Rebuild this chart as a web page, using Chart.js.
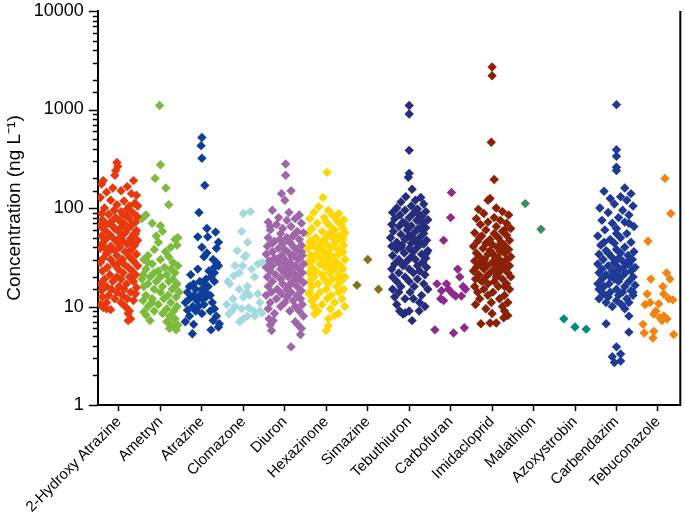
<!DOCTYPE html>
<html>
<head>
<meta charset="utf-8">
<script src="https://cdn.jsdelivr.net/npm/chart.js@4.4.1/dist/chart.umd.min.js"></script>
<style>
html,body{margin:0;padding:0;background:#fff;}
canvas{display:block;}
</style>
</head>
<body>
<canvas id="c" width="685" height="518"></canvas>
<script>
const categories = ["2-Hydroxy Atrazine","Ametryn","Atrazine","Clomazone","Diuron","Hexazinone","Simazine","Tebuthiuron","Carbofuran","Imidacloprid","Malathion","Azoxystrobin","Carbendazim","Tebuconazole"];
const yTickLabels = [1, 10, 100, 1000, 10000];

const hydroxyAtrazineValues = [290,265,240,215,190,190,175,165,160,150,145,140,135,128,120,118,112,108,105,100,98,95,92,90,88,86,84,82,80,78,76,75,73,72,70,68,67,66,65,63,62,60,59,58,56,55,54,52,51,50,49,48,47,46,45,44,43,42,41,40,39,38,37,36,35,34,33,32,31,30,30,29,28,27,27,26,25,25,24,23,23,22,21,21,20,20,19,19,18,18,17,17,16,16,15.5,15,15,14.5,14,14,13.5,13,13,12.5,12,12,11.5,11,11,10.5,10,9.8,9.5,9.3,9,8.5,7.5,7.2,62,85,48,36,70,105,44,28,55,40];
const hydroxyAtrazineJitter = [-0.05,-0.03,-0.08,-0.1,-0.38,0.35,-0.42,0.2,-0.15,0.05,-0.3,0.3,0.42,-0.45,-0.2,0.12,0.38,-0.05,0.45,-0.35,0.2,-0.12,0.05,0.33,-0.42,-0.25,0.18,0.44,-0.08,0.25,-0.4,0.0,-0.18,0.4,0.12,-0.3,0.3,-0.45,0.07,-0.12,0.22,-0.35,0.42,-0.02,0.15,-0.25,0.35,-0.42,0.05,-0.15,0.28,-0.32,0.45,0.1,-0.05,-0.4,0.2,0.38,-0.2,0.02,-0.45,0.3,-0.1,0.15,-0.3,0.42,-0.05,0.25,-0.38,0.08,-0.2,0.35,-0.45,0.12,-0.12,0.45,-0.28,0.22,-0.02,0.32,-0.4,0.1,-0.22,0.4,-0.05,0.25,-0.35,0.05,0.35,-0.15,-0.45,0.18,0.0,-0.3,0.42,-0.18,0.12,-0.42,0.28,-0.05,0.4,-0.25,0.08,-0.4,0.2,-0.1,0.35,-0.3,0.05,-0.45,0.15,-0.38,-0.3,-0.2,0.25,0.22,0.28,0.22,-0.1,0.1,0.0,-0.25,-0.22,0.25,0.3,0.0,0.4,-0.35];

const ametrynValues = [1100,275,200,160,108,85,78,70,66,58,52,50,48,45,42,40,38,36,33,32,30,30,28,27,26,25,24,24,23,22,21,21,20,20,19,19,18,18,17,17,16,16,15,15,14,14,13,13,12.5,12,12,11.5,11,10.5,10,10,9.5,9,9,8.8,8.5,8.2,8,7.5,7.2,7,6.6,6.3,6,5.8,6.5,11,16,22,28];
const ametrynJitter = [-0.02,0.0,-0.13,0.13,0.2,-0.35,-0.45,-0.2,0.0,0.05,-0.1,0.42,0.35,-0.05,0.4,0.25,-0.15,0.12,-0.3,0.2,-0.4,0.0,0.3,-0.2,0.42,0.1,-0.35,0.25,-0.05,0.35,-0.42,0.15,-0.25,0.0,0.3,-0.45,-0.1,0.2,0.4,-0.3,0.05,-0.4,0.28,-0.15,0.45,0.0,-0.35,0.18,0.38,-0.2,0.08,-0.42,0.25,-0.05,0.4,-0.3,0.15,-0.15,0.32,-0.4,0.05,-0.35,0.22,0.35,-0.25,0.15,0.25,0.3,0.22,0.38,0.42,-0.2,0.35,-0.15,-0.3];

const atrazineValues = [520,430,320,170,90,62,57,51,51,40,39,32,30,26,25,23,21,20,19,18,17,16,16,15,15,14,14,13,13,12.5,12,12,11.5,11,11,10.5,10,10,9.5,9.2,9,9,8.5,8,8,7.2,7,6.7,6.6,5.8,5.3,6.2,13,17,22,24,18,28,35,45];
const atrazineJitter = [0.0,-0.02,0.0,0.07,-0.07,0.12,0.33,0.14,-0.1,0.0,0.35,0.05,0.27,0.4,0.3,0.17,-0.27,0.22,0.1,-0.05,0.05,-0.3,0.15,-0.15,0.0,-0.35,0.08,-0.2,-0.05,0.1,-0.3,0.0,-0.12,0.25,-0.4,0.05,-0.22,-0.08,0.3,-0.35,0.2,-0.15,0.0,-0.3,0.35,0.27,-0.4,0.42,-0.2,0.22,-0.23,0.4,0.2,-0.2,0.3,-0.1,0.3,0.35,0.12,0.4];

const clomazoneValues = [92,88,58,45,37,33,32,28,26,26,27,24,20.5,20,18,17,16,15,14,13,13.5,12,11,10,9.5,9.7,9,9,9,8.4,8,8,7.5,7,8.6,10.5,12.5,22];
const clomazoneJitter = [0.17,0.0,-0.04,0.1,-0.15,0.06,0.03,0.45,-0.2,-0.02,0.35,0.2,-0.23,0.27,-0.37,-0.33,0.1,-0.1,0.08,0.15,0.35,-0.25,0.4,-0.2,-0.04,0.13,-0.28,0.25,0.4,-0.35,0.1,0.27,0.0,-0.09,0.45,-0.4,0.0,-0.1];

const diuronValues = [280,215,150,140,120,95,90,85,80,78,75,72,70,68,65,62,60,58,56,55,52,50,50,48,46,45,44,42,41,40,39,38,37,36,35,34,33,33,32,31,30,30,29,28,28,27,26,26,25,25,24,24,23,23,22,22,21,21,20,20,19,19,18,18,17.5,17,16.5,16,16,15,15,14.5,14,14,13.5,13,13,12.5,12,12,11.5,11,11,10.5,10,10,9.5,9,9,8.5,8,7.5,7,6.5,6,5.2,3.9,33,44,27,20,55,36,17,30,48,65,24,5.7,6.5,7.2];
const diuronJitter = [0.02,0.02,0.15,-0.08,0.0,-0.3,0.1,0.35,-0.15,0.25,0.05,-0.4,0.4,-0.2,0.15,-0.05,-0.35,0.3,0.45,-0.1,0.2,-0.4,0.05,0.35,-0.25,0.12,-0.05,0.4,-0.42,0.22,-0.15,0.0,0.3,-0.3,0.1,-0.45,0.42,-0.08,0.18,-0.25,0.32,0.0,-0.38,0.12,-0.15,0.45,0.25,-0.3,0.05,-0.45,0.35,-0.1,0.15,-0.35,0.42,-0.02,0.25,-0.22,0.08,-0.42,0.35,-0.1,0.2,-0.3,0.45,-0.05,0.1,-0.4,0.3,-0.18,0.05,0.4,-0.32,0.15,-0.08,0.3,-0.45,0.05,-0.2,0.38,0.2,-0.35,0.0,0.42,-0.1,0.25,-0.4,0.12,0.35,-0.25,0.45,-0.38,0.25,0.32,0.4,0.38,0.15,0.2,-0.3,0.0,0.3,0.25,0.4,0.15,-0.2,-0.12,-0.35,0.1,-0.32,-0.35,-0.28];

const hexazinoneValues = [230,128,103,95,90,88,85,80,78,76,75,72,70,68,65,62,60,58,56,55,54,52,50,50,48,47,46,45,44,43,42,41,40,39,38,37,36,35,35,34,33,32,31,30,30,29,28,28,27,26,26,25,25,24,24,23,22,22,21,21,20,20,19,19,18,18,17,17,16,16,15,15,14,14,13.5,13,12.5,12,12,11.5,11,10.5,10,10,9.5,9,8.5,8.4,8.1,7.5,6.4,5.7,40,55,33,27,45,62,19,14,50,36];
const hexazinoneJitter = [0.02,-0.08,-0.18,0.05,-0.3,0.3,0.15,-0.05,-0.4,0.42,0.25,0.0,-0.22,0.35,0.1,-0.35,0.2,-0.1,0.45,-0.45,0.05,0.3,-0.25,0.15,-0.05,0.38,-0.38,0.22,-0.15,0.0,0.42,-0.3,0.12,-0.45,0.28,-0.08,0.4,-0.22,0.05,0.3,-0.38,0.15,-0.12,0.45,-0.3,0.02,0.25,-0.45,-0.15,0.35,0.1,-0.35,-0.02,0.4,0.2,-0.25,0.08,-0.42,0.3,-0.1,0.45,-0.3,0.15,-0.05,0.35,-0.4,0.05,-0.2,0.25,-0.35,0.42,0.0,-0.15,0.3,-0.42,0.12,-0.25,0.38,0.02,-0.35,0.2,-0.1,0.45,-0.3,0.1,-0.2,0.3,-0.28,0.2,0.05,0.05,0.0,-0.2,0.15,0.05,0.2,-0.4,0.4,0.3,-0.4,0.4,-0.05];

const simazineValues = [30,16.5,15];
const simazineJitter = [0.0,-0.26,0.26];

const tebuthiuronValues = [1100,900,385,225,205,155,130,128,120,115,110,105,100,98,95,92,90,88,85,82,80,78,76,75,72,70,68,66,65,63,62,60,58,56,55,54,52,50,50,48,47,46,45,44,43,42,41,40,39,38,37,36,35,34,33,32,31,30,30,29,28,27,26,26,25,24,24,23,22,22,21,20,20,19,18,18,17,16,16,15,15,14,14,13,12.5,12,12,11,10.5,10,9,8.6,8.4,9,9,7.2,60,45,35,28,40,50,70,85];
const tebuthiuronJitter = [0.0,0.0,0.0,0.0,-0.02,0.07,-0.08,0.28,0.15,-0.2,0.35,0.05,-0.3,0.2,-0.1,0.4,-0.4,0.1,-0.22,0.3,0.0,-0.35,0.45,0.18,-0.15,0.32,-0.42,0.05,-0.25,0.4,0.22,-0.05,-0.38,0.12,0.35,-0.2,0.0,0.25,-0.45,-0.1,0.42,0.15,-0.3,0.05,0.35,-0.18,-0.42,0.2,0.0,-0.3,0.45,0.1,-0.12,0.3,-0.4,0.05,0.4,-0.25,0.15,-0.05,0.32,-0.35,0.2,-0.15,0.42,-0.42,0.0,0.25,-0.25,0.1,0.38,-0.1,-0.4,0.2,0.0,-0.3,0.35,-0.2,0.12,-0.4,0.45,0.02,-0.25,0.3,-0.35,0.1,-0.1,0.25,-0.3,0.38,-0.23,-0.1,-0.15,0.0,0.24,0.07,0.3,0.25,0.42,-0.2,-0.2,0.08,-0.1,0.25];

const carbofuranValues = [144,80,47,24,20,17,17,14.5,15,15,12.8,12.8,12,11.5,16,5.8,5.4,6.1,13.5];
const carbofuranJitter = [0.02,0.0,-0.17,0.17,0.22,-0.33,-0.1,-0.22,-0.05,0.36,0.26,0.12,-0.24,-0.17,0.3,-0.38,0.07,0.33,0.05];

const imidaclopridValues = [2700,2200,465,195,125,120,100,97,92,88,85,80,78,75,72,70,68,65,62,60,58,56,55,53,52,50,48,47,46,45,44,43,42,41,40,39,38,37,36,35,35,34,33,32,32,31,30,30,29,28,28,27,27,26,26,25,25,24,24,23,23,22,22,21,21,20,20,19,19,18,18,17,17,16,16,15,15,14,14,13,13,12,12,11,11,10.5,10,9.5,9,8.5,8.1,7.7,6.8,6.7,6.8,40,50,30,25,60,45,35,20,16];
const imidaclopridJitter = [0.0,0.0,-0.02,0.05,-0.05,-0.1,0.1,-0.33,0.25,-0.2,0.4,0.05,-0.38,0.2,-0.1,0.35,-0.28,0.1,0.45,-0.15,0.25,-0.42,0.05,0.35,-0.25,0.15,-0.05,0.42,-0.35,0.22,-0.15,0.0,0.3,-0.45,0.12,-0.22,0.4,-0.05,0.2,-0.38,0.3,-0.1,0.05,0.45,-0.3,0.15,-0.18,0.35,-0.42,0.0,0.25,-0.28,0.1,0.42,-0.12,-0.38,0.3,0.05,-0.2,0.2,-0.45,0.38,-0.05,0.12,-0.32,0.45,-0.15,0.25,-0.4,0.05,-0.25,0.35,-0.1,0.15,-0.42,0.42,-0.2,0.02,-0.35,0.3,-0.1,0.18,-0.3,0.38,-0.02,-0.4,0.25,-0.15,0.3,0.0,0.38,0.28,-0.05,-0.27,0.1,0.25,-0.3,0.08,0.15,0.3,-0.1,0.0,0.1,0.3];

const malathionValues = [111,61];
const malathionJitter = [-0.2,0.18];

const azoxystrobinValues = [7.5,6.2,5.9];
const azoxystrobinJitter = [-0.27,0.0,0.27];

const carbendazimValues = [1120,390,335,260,240,160,148,140,130,125,120,110,105,100,95,90,85,80,75,72,70,65,62,60,55,52,50,48,45,44,42,40,38,37,36,35,34,33,32,31,30,30,29,28,27,27,26,26,25,25,24,24,23,23,22,22,21,21,20,20,19,19,18,18,17,17,16.5,16,16,15,15,14.5,14,14,13.5,13,13,12.5,12,12,11.5,11,11,10.5,10,9.5,8,6.7,5.5,3.9,3.1,3.3,2.7,2.8,45,55,70,28,35,20,14];
const carbendazimJitter = [0.0,0.0,0.0,0.0,0.0,0.2,-0.3,0.35,0.1,-0.15,0.25,-0.05,0.4,-0.4,0.15,-0.2,0.3,0.05,-0.35,0.2,-0.1,0.42,0.0,-0.28,0.25,-0.45,0.1,-0.15,0.35,-0.05,-0.38,0.2,0.0,-0.25,0.42,0.1,-0.42,0.28,-0.12,0.05,0.38,-0.32,0.15,-0.05,-0.45,0.3,0.0,-0.2,0.45,0.18,-0.35,0.08,-0.1,0.35,-0.42,0.22,0.0,-0.25,0.4,0.12,-0.35,-0.05,0.3,0.05,-0.45,-0.18,0.45,0.2,-0.3,0.0,-0.42,0.35,-0.15,0.15,-0.32,0.05,0.4,-0.2,0.25,-0.42,0.0,0.3,-0.25,0.12,-0.1,0.2,0.3,-0.25,0.3,0.0,-0.1,0.1,-0.05,0.1,-0.3,0.0,0.3,0.25,-0.2,-0.15,0.4];

const tebuconazoleValues = [200,88,46,22,19,19,13.4,13.4,11.7,10.7,10.5,11,12,8.4,7.7,8,7.5,9,6.6,5.4,5.6,4.8,5.2,7.2,16];
const tebuconazoleJitter = [0.17,0.31,-0.24,0.21,0.29,-0.17,-0.26,0.14,0.36,0.02,-0.31,-0.19,0.26,-0.1,0.05,0.14,0.22,-0.05,-0.36,-0.33,-0.1,-0.12,0.38,0.1,0.12];

const seriesValues = [hydroxyAtrazineValues, ametrynValues, atrazineValues, clomazoneValues, diuronValues, hexazinoneValues, simazineValues, tebuthiuronValues, carbofuranValues, imidaclopridValues, malathionValues, azoxystrobinValues, carbendazimValues, tebuconazoleValues];
const seriesJitter = [hydroxyAtrazineJitter, ametrynJitter, atrazineJitter, clomazoneJitter, diuronJitter, hexazinoneJitter, simazineJitter, tebuthiuronJitter, carbofuranJitter, imidaclopridJitter, malathionJitter, azoxystrobinJitter, carbendazimJitter, tebuconazoleJitter];
const seriesColors = ["#E8380D","#7DBB3C","#0D3E99","#A6DADF","#A066AA","#FFD700","#857414","#262D7D","#8E2A8A","#8B2107","#3F8A5E","#008C80","#1E3A96","#F5820F"];

const FONT = "'Liberation Sans', Arial, sans-serif";

const datasets = categories.map((name, ci) => ({
  label: name,
  data: seriesValues[ci].map((v, i) => ({ x: ci + (seriesJitter[ci][i] ?? 0), y: v })),
  backgroundColor: seriesColors[ci],
  borderWidth: 0,
  pointStyle: 'rectRot',
  pointRadius: 4.7,
  pointHoverRadius: 4.7
}));

const isDecade = v => Math.abs(Math.log10(v) - Math.round(Math.log10(v))) < 1e-9;

const axisDecor = {
  id: 'axisDecor',
  afterDraw(chart) {
    const { ctx, chartArea, scales } = chart;
    const y = scales.y;
    ctx.save();
    ctx.strokeStyle = '#000';
    ctx.lineWidth = 1.5;
    y.ticks.forEach(t => {
      const p = Math.round(y.getPixelForValue(t.value)) + 0.5;
      const len = isDecade(t.value) ? 9 : 5;
      ctx.beginPath();
      ctx.moveTo(chartArea.left - len, p);
      ctx.lineTo(chartArea.left, p);
      ctx.stroke();
    });
    ctx.lineWidth = 2;
    ctx.beginPath();
    ctx.moveTo(chartArea.right, chartArea.top);
    ctx.lineTo(chartArea.right, chartArea.bottom + 1);
    ctx.stroke();
    ctx.restore();
  }
};

new Chart(document.getElementById('c'), {
  type: 'scatter',
  data: { datasets },
  plugins: [axisDecor],
  options: {
    responsive: false,
    animation: false,
    devicePixelRatio: 1,
    layout: { padding: { left: 1, right: 1, top: 0, bottom: 0 } },
    plugins: { legend: { display: false }, tooltip: { enabled: false } },
    scales: {
      x: {
        type: 'linear',
        min: -0.51,
        max: 13.54,
        afterBuildTicks: scale => { scale.ticks = categories.map((c, i) => ({ value: i })); },
        ticks: {
          autoSkip: false,
          minRotation: 45,
          maxRotation: 45,
          padding: 2,
          color: '#000',
          font: { family: FONT, size: 15 },
          callback: v => categories[v]
        },
        grid: { drawOnChartArea: false, drawTicks: true, tickLength: 6, tickColor: '#000', tickWidth: 1.5 },
        border: { display: true, color: '#000', width: 2 }
      },
      y: {
        type: 'logarithmic',
        min: 1,
        max: 10000,
        afterFit: scale => { scale.paddingTop = 11; },
        ticks: {
          autoSkip: false,
          padding: 5,
          color: '#000',
          font: { family: FONT, size: 18 },
          callback: v => (isDecade(v) && yTickLabels.includes(Math.round(v))) ? String(Math.round(v)) : ''
        },
        grid: { drawOnChartArea: false, drawTicks: true, tickLength: 9, tickColor: 'rgba(0,0,0,0)' },
        border: { display: true, color: '#000', width: 2 },
        title: {
          display: true,
          text: 'Concentration (ng L\u207B\u00B9)',
          color: '#000',
          font: { family: FONT, size: 19 },
          padding: { top: 2, bottom: 3 }
        }
      }
    }
  }
});
</script>
</body>
</html>
